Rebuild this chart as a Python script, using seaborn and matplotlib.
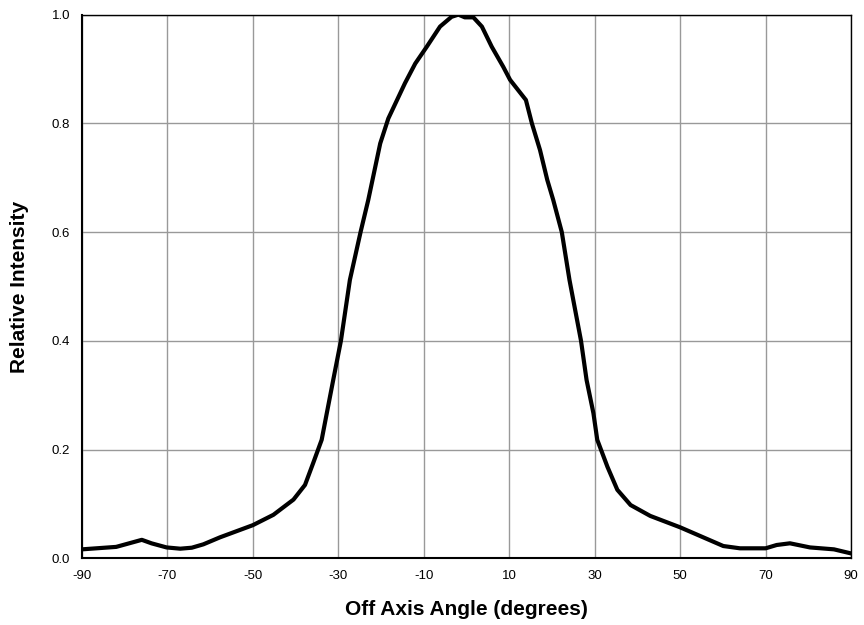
import matplotlib
matplotlib.use("Agg")
import pandas as pd
import matplotlib.pyplot as plt
import seaborn as sb

# Beam profile
angle = [-90, -82, -76, -73.7, -70.2, -67, -64.3, -61.6, -57.7, -50,
         -45.2, -40.5, -37.8, -35.9, -33.9, -32.7, -31.2, -29.4, -27.3, -24.8,
         -23.0, -20.2, -18.3, -14.4, -12.0, -9.3, -6.2, -3.5, -1.9, -0.4,
         1.6, 3.6, 5.9, 8.6, 10.2, 13.9, 15.3, 17.2, 18.9, 20.3,
         22.3, 24.1, 26.8, 28.1, 29.7, 30.6, 33.0, 35.3, 38.4, 43.0,
         50, 54.7, 60.1, 64, 70, 72.6, 75.7, 80.4, 86, 90]
intensity = [0.0165, 0.021, 0.034, 0.0275, 0.020, 0.0177, 0.0195, 0.0257, 0.0386, 0.061,
             0.080, 0.108, 0.135, 0.175, 0.218, 0.267, 0.328, 0.400, 0.512, 0.600,
             0.659, 0.763, 0.809, 0.874, 0.910, 0.941, 0.978, 0.996, 1.0, 0.995,
             0.995, 0.978, 0.941, 0.904, 0.880, 0.843, 0.800, 0.751, 0.696, 0.659,
             0.600, 0.512, 0.400, 0.328, 0.267, 0.218, 0.168, 0.126, 0.098, 0.078,
             0.057, 0.041, 0.0226, 0.0184, 0.0184, 0.0245, 0.0276, 0.020, 0.0165, 0.009]
xticks = [-90, -70, -50, -30, -10, 10, 30, 50, 70, 90]
yticks = [0.0, 0.2, 0.4, 0.6, 0.8, 1.0]

df = pd.DataFrame({'angle': angle, 'intensity': intensity})

sb.set_style('white')
plt.rcParams['font.family'] = ['Liberation Sans', 'DejaVu Sans']

fig = plt.figure(figsize=(8.64, 6.25), dpi=100)
ax = fig.add_axes([0.0949, 0.1067, 0.8901, 0.8699])

sb.lineplot(x='angle', y='intensity', data=df, color='black', linewidth=3,
            estimator=None, ax=ax, zorder=3)

ax.set_xlim(-90, 90)
ax.set_ylim(0, 1.0)
ax.set_xticks(xticks)
ax.set_yticks(yticks)
ax.set_xticklabels([str(t) for t in xticks])
ax.set_yticklabels(['%.1f' % t for t in yticks])
ax.tick_params(axis='both', length=0, labelsize=9.5, colors='black', pad=8.5)
ax.grid(True, color='#999999', linewidth=1)

for side in ['top', 'right']:
    ax.spines[side].set_color('black')
    ax.spines[side].set_linewidth(1)
for side in ['left', 'bottom']:
    ax.spines[side].set_color('black')
    ax.spines[side].set_linewidth(1.5)

ax.set_xlabel('Off Axis Angle (degrees)', fontsize=15, fontweight='bold',
              color='black', labelpad=13)
ax.set_ylabel('Relative Intensity', fontsize=15, fontweight='bold',
              color='black', labelpad=16)

fig.savefig('out.png', dpi=100)
